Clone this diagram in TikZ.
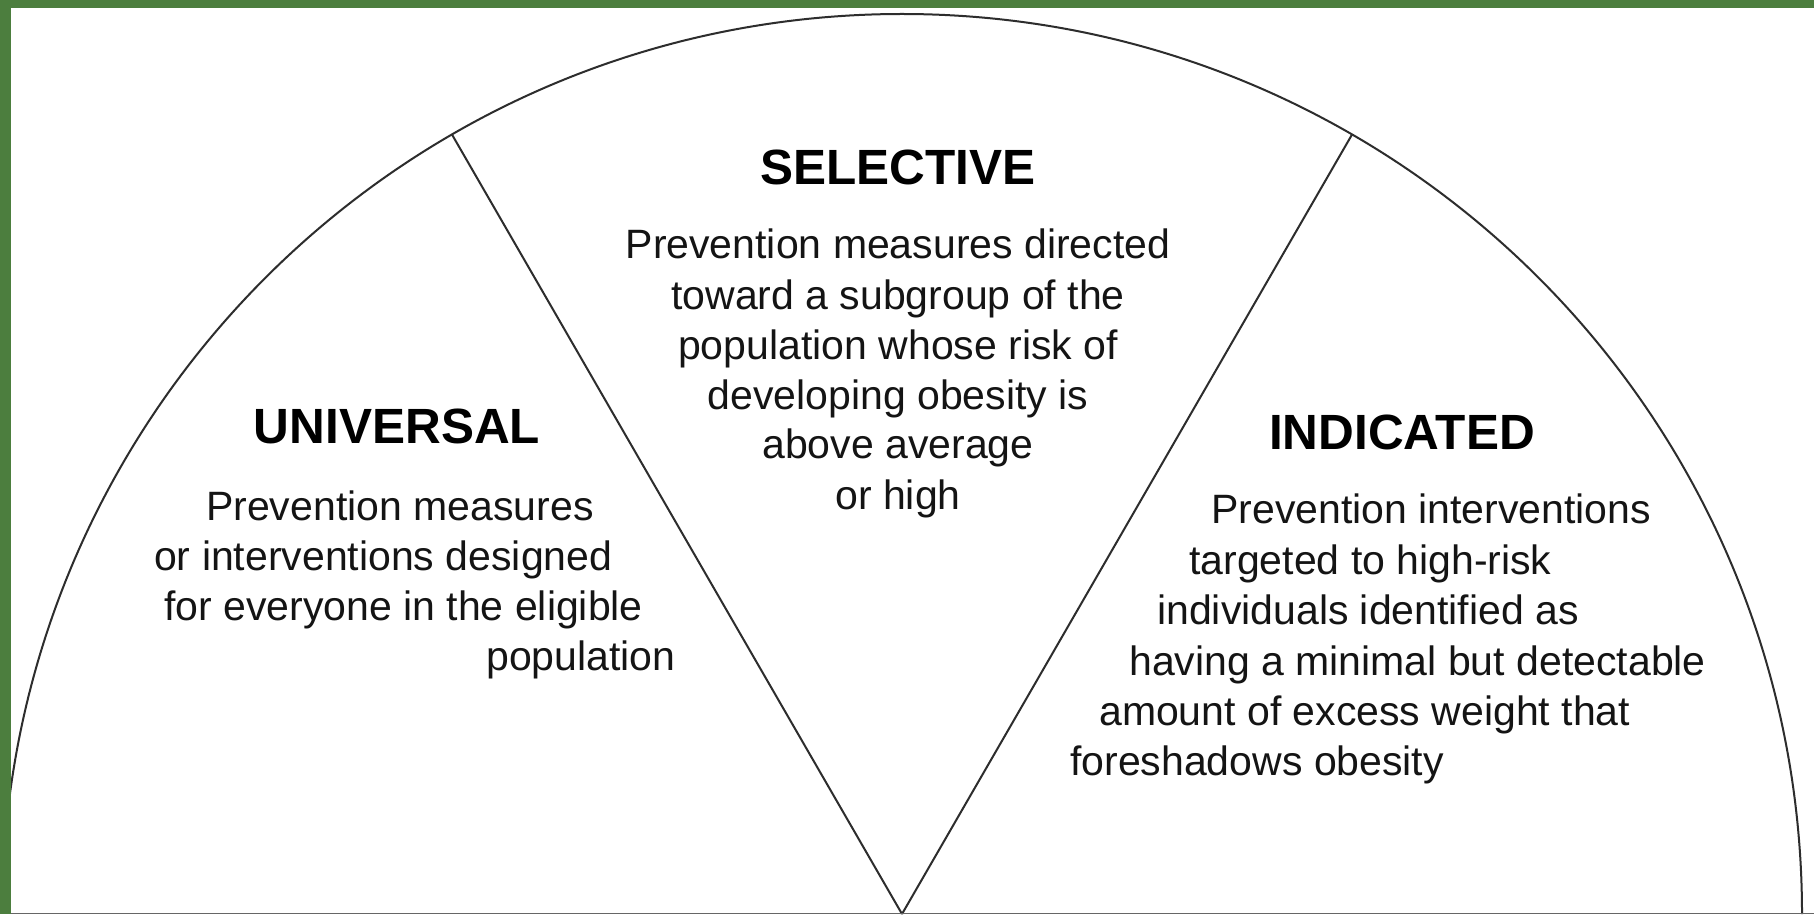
\documentclass[tikz,border=0pt]{standalone}
\usepackage{fontspec}
\setmainfont{Liberation Sans}
\definecolor{frame}{RGB}{76,126,62}
\definecolor{ink}{RGB}{45,45,45}
\begin{document}
\begin{tikzpicture}[x=1pt,y=1pt,
  title/.style={font=\fontsize{49.5}{50}\selectfont\bfseries, anchor=base, inner sep=0pt, text=black},
  body/.style={font=\fontsize{41}{50}\selectfont, anchor=base west, inner sep=0pt, text=black!92},
  bodyc/.style={body, anchor=base},
  rim/.style={line width=2pt, draw=ink}]
\useasboundingbox (0,0) rectangle (1814,914);
\fill[white] (0,0) rectangle (1814,914);

% half disc split into three sectors
\coordinate (apex) at (902,0);
\path (apex) ++(120:900) coordinate (rimL);
\path (apex) ++(60:900) coordinate (rimR);
\begin{scope}
  \clip (11,0) rectangle (1814,906);
  \draw[rim] (apex) ++(0:900) arc[start angle=0, end angle=180, radius=900];
\end{scope}
\draw[rim] (apex) -- (rimL);
\draw[rim] (apex) -- (rimR);
\draw[line width=1.5pt, draw=black!60] (11,0.75) -- (1814,0.75);

% frame bands
\fill[frame] (0,906) rectangle (1814,914);
\fill[frame] (0,0) rectangle (11,914);

% universal
\node[title] (uT) at (397,470) {UNIVERSAL};
\node[body] (u1) at (206,394) {Prevention measures};
\node[body] (u2) at (154,344) {or interventions designed};
\node[body] (u3) at (164,294) {for everyone in the eligible};
\node[body] (u4) at (486,244) {population};

% selective
\node[title] (sT) at (898,729) {SELECTIVE};
\node[bodyc] (s1) at (898,655) {Prevention measures directed};
\node[bodyc] (s2) at (898,604) {toward a subgroup of the};
\node[bodyc] (s3) at (898,554) {population whose risk of};
\node[bodyc] (s4) at (898,504) {developing obesity is};
\node[bodyc] (s5) at (898,455) {above average};
\node[bodyc] (s6) at (898,405) {or high};

% indicated
\node[title] (iT) at (1402,464) {INDICATED};
\node[body] (i1) at (1211,391) {Prevention interventions};
\node[body] (i2) at (1189,340) {targeted to high-risk};
\node[body] (i3) at (1157,290) {individuals identified as};
\node[body] (i4) at (1129,239) {having a minimal but detectable};
\node[body] (i5) at (1099,189) {amount of excess weight that};
\node[body] (i6) at (1070,139) {foreshadows obesity};
\end{tikzpicture}
\end{document}
